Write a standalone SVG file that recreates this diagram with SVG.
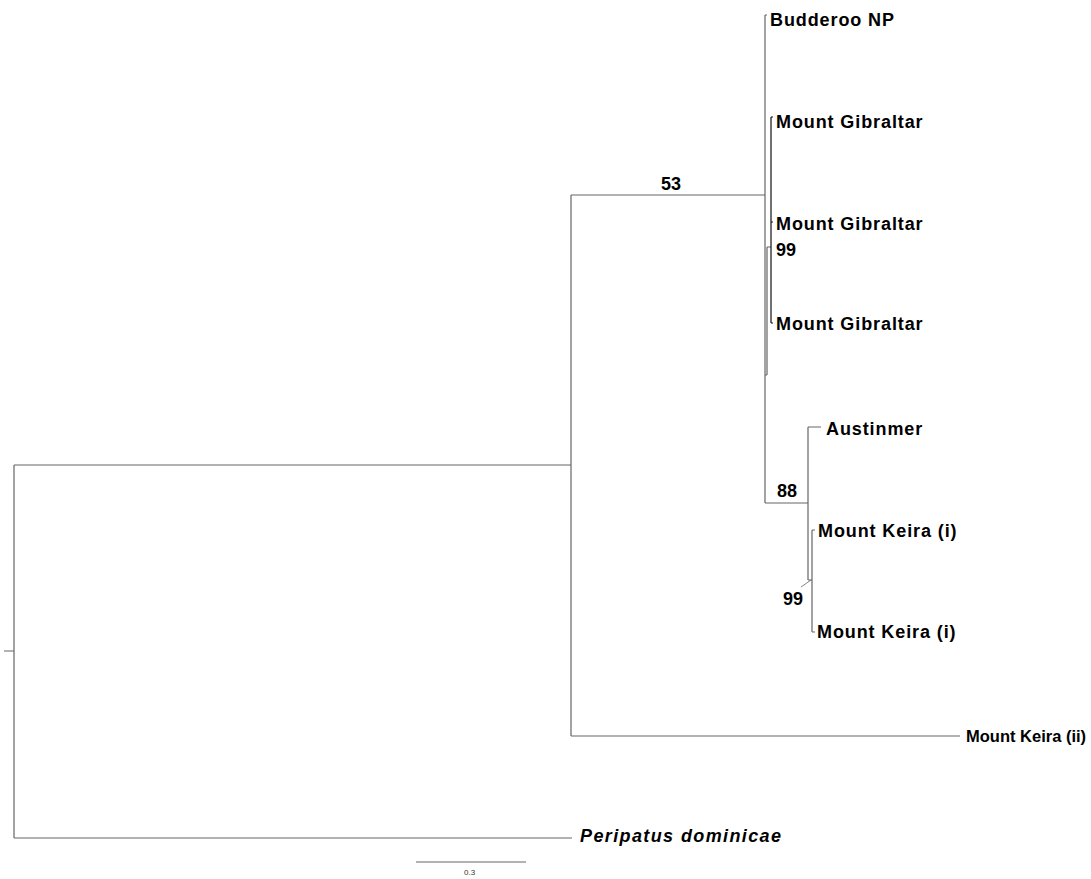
<svg xmlns="http://www.w3.org/2000/svg" width="1091" height="879" viewBox="0 0 1091 879">
<style>
.br{stroke:#666;stroke-width:1.2;fill:none}
.bk{stroke:#111;stroke-width:1.2;fill:none}
.lb{font-family:"Liberation Sans",Arial,sans-serif;font-weight:bold;font-size:18px;letter-spacing:0.9px;fill:#000}
.bs{font-family:"Liberation Sans",Arial,sans-serif;font-weight:bold;font-size:18px;fill:#000}
.it{font-style:italic}
.sc{font-family:"Liberation Sans",Arial,sans-serif;font-size:8px;fill:#333}
</style>
<rect width="1091" height="879" fill="#fff"/>
<g id="connectors">
<path class="br" d="M4 651H14M14 465V838M14 465H571M14 838H572"/>
<path class="br" d="M571 195V736M571 195H765M571 736H960"/>
<path class="br" d="M765 15V503M765 15H767M765 375H767M767 247V375M767 247H771"/>
<path class="bk" d="M771 117V323M771 117H773M771 222H773M771 323H773"/>
<path class="br" d="M765 503H808M808 427V580M808 427H821M808 580H812M812 530V632M812 530H815M812 632H815"/>
<path class="br" d="M801 587L811 580" style="stroke-width:0.8"/>
<path class="br" d="M416 862H526"/>
</g>
<g id="n-budderoo"><text class="lb" x="770" y="26">Budderoo NP</text></g>
<g id="n-gib1"><text class="lb" x="776" y="128">Mount Gibraltar</text></g>
<g id="n-gib2"><text class="lb" x="776" y="230">Mount Gibraltar</text></g>
<g id="n-gib3"><text class="lb" x="776" y="330">Mount Gibraltar</text></g>
<g id="n-austinmer"><text class="lb" x="826" y="435">Austinmer</text></g>
<g id="n-keira1"><text class="lb" x="818" y="537">Mount Keira (i)</text></g>
<g id="n-keira2"><text class="lb" x="817" y="638">Mount Keira (i)</text></g>
<g id="n-keira-ii"><text class="bs" x="966" y="742" style="font-size:16.5px">Mount Keira (ii)</text></g>
<g id="n-peripatus"><text class="bs it" x="580" y="842" textLength="201" lengthAdjust="spacing">Peripatus dominicae</text></g>
<g id="support">
<text class="bs" x="661" y="190">53</text>
<text class="bs" x="776" y="256">99</text>
<text class="bs" x="777" y="497">88</text>
<text class="bs" x="783" y="605">99</text>
</g>
<g id="scale"><text class="sc" x="464" y="875">0.3</text></g>
</svg>
